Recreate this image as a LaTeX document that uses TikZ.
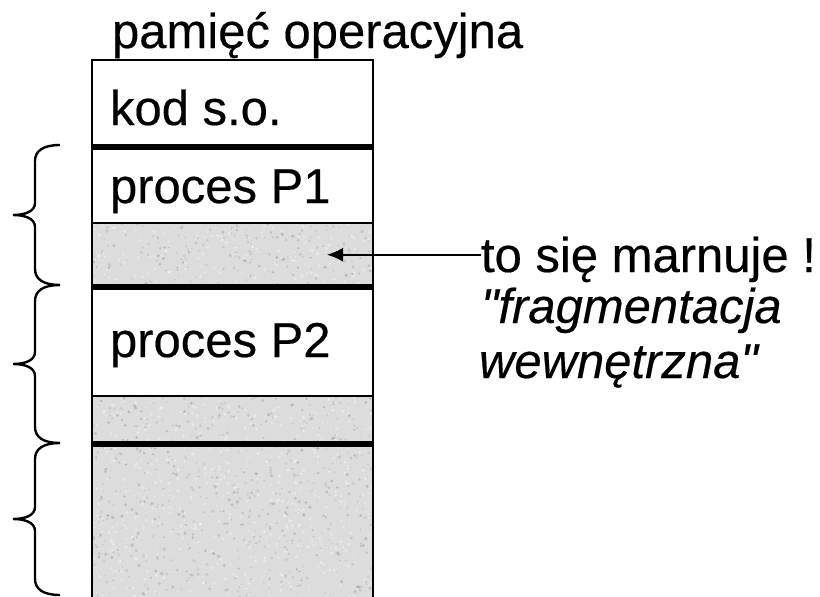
\documentclass[tikz,border=0pt]{standalone}
\usepackage{fontspec}
% plain family: no TeX ligature mapping, so " stays a straight quote
\newfontfamily\labelfont{Liberation Sans}[FakeBold=0.35]
\usetikzlibrary{arrows.meta,calc}
\definecolor{wastegray}{RGB}{220,220,220}

% a curly brace opening to the right, from y=#1 down to y=#2
\newcommand\memcurly[2]{%
  \pgfmathsetmacro\cmid{(#1+#2)/2}%
  \draw[curly] (60,#1) .. controls (43,#1) and (35,#1+6) .. (35,#1+16)
    -- (35,\cmid-12) .. controls (35,\cmid-4) and (26,\cmid) .. (13,\cmid)
    .. controls (26,\cmid) and (35,\cmid+4) .. (35,\cmid+12)
    -- (35,#2-16) .. controls (35,#2-6) and (43,#2) .. (60,#2);
}

\begin{document}
\begin{tikzpicture}[x=1pt,y=-1pt,
  every node/.style={inner sep=0pt, outer sep=0pt},
  seg/.style={rectangle, draw=black, line width=2pt, minimum width=281pt, anchor=north west},
  used/.style={seg, fill=white},
  lost/.style={seg, fill=wastegray},
  bar/.style={line width=6pt},
  lbl/.style={font=\labelfont\fontsize{49}{55}\selectfont, anchor=base west},
  lblit/.style={font=\labelfont\fontsize{49}{55}\selectfont\itshape, anchor=base west},
  curly/.style={line width=2.4pt},
  arr/.style={line width=2pt, -{Latex[length=16pt,width=14pt]}}
]
\useasboundingbox (0,0) rectangle (820,597);
\clip (0,0) rectangle (820,597);
\fill[white] (0,0) rectangle (820,597);

% memory column, top to bottom
\node[used, minimum height=87pt]   (kod)    at (92,60)            {};
\node[used, minimum height=76pt]   (p1)     at (kod.south west)   {};
\node[lost, minimum height=63.5pt] (waste1) at (p1.south west)    {};
\node[used, minimum height=109.5pt](p2)     at (waste1.south west){};
\node[lost, minimum height=47.5pt] (waste2) at (p2.south west)    {};
\node[lost, minimum height=180pt]  (free)   at (waste2.south west){};

% speckled texture of the grey areas
\pgfmathsetseed{11}
\foreach \n/\ya/\h/\k in {waste1/223/64/200, waste2/396/48/150, free/443/156/480}{
  \begin{scope}
    \clip ($(\n.north west)+(1,1)$) rectangle ($(\n.south east)+(-1,-1)$);
    \foreach \i in {1,...,\k}{
      \pgfmathsetmacro\sx{92+281*rnd}
      \pgfmathsetmacro\sy{\ya+\h*rnd}
      \pgfmathsetmacro\sr{0.7+1.1*rnd}
      \pgfmathsetmacro\so{0.05+0.10*rnd}
      \fill[black, opacity=\so] (\sx,\sy) circle (\sr);
      \pgfmathsetmacro\wx{92+281*rnd}
      \pgfmathsetmacro\wy{\ya+\h*rnd}
      \fill[white, opacity=0.35] (\wx,\wy) circle (\sr);
    }
  \end{scope}
}

% partition boundaries
\draw[bar] (kod.south west) -- (kod.south east);
\draw[bar] (waste1.south west) -- (waste1.south east);
\draw[bar] (waste2.south west) -- (waste2.south east);

% texts
\node[lbl] (title)  at (112,48)  {pamięć operacyjna};
\node[lbl] (kodtxt) at (110,125) {kod s.o.};
\node[lbl] (p1txt)  at (110,203) {proces P1};
\node[lbl] (p2txt)  at (110,357) {proces P2};
\node[lbl]   (msg)   at (481,272) {to się marnuje !};
\node[lblit] (frag1) at (481,323) {"fragmentacja};
\node[lblit] (frag2) at (479,378) {wewnętrzna"};

% pointer to the wasted part of the first partition
\draw[arr] (msg.west |- waste1.east) -- ($(waste1.east)+(-46,0)$);

% braces marking the fixed partitions
\memcurly{145}{285}
\memcurly{285}{443}
\memcurly{443}{595}
\end{tikzpicture}
\end{document}
